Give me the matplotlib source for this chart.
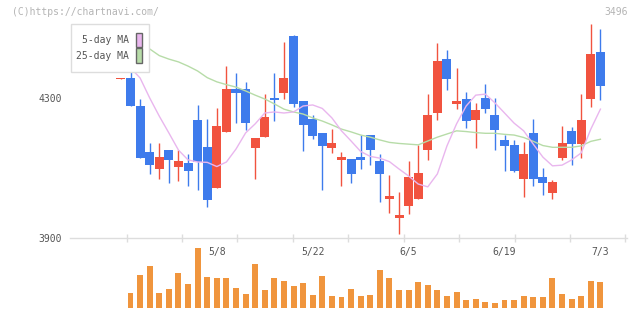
import matplotlib
matplotlib.use("Agg")
import matplotlib.pyplot as plt
from matplotlib.patches import Rectangle
import numpy as np

# trading days shown (2024), first one has no volume bar / MA
days = ["4/19", "4/22", "4/23", "4/24", "4/25", "4/26", "4/30", "5/1", "5/2", "5/7",
        "5/8", "5/9", "5/10", "5/13", "5/14", "5/15", "5/16", "5/17", "5/20", "5/21",
        "5/22", "5/23", "5/24", "5/27", "5/28", "5/29", "5/30", "5/31", "6/3", "6/4",
        "6/5", "6/6", "6/7", "6/10", "6/11", "6/12", "6/13", "6/14", "6/17", "6/18",
        "6/19", "6/20", "6/21", "6/24", "6/25", "6/26", "6/27", "6/28", "7/1", "7/2",
        "7/3"]

opens = [4356, 4358, 4278, 4147, 4099, 4152, 4105, 4115, 4238, 4161,
         4045, 4205, 4326, 4326, 4159, 4190, 4301, 4316, 4478, 4292,
         4241, 4201, 4159, 4125, 4127, 4132, 4195, 4121, 4013, 3959,
         3993, 4013, 4153, 4259, 4412, 4285, 4298, 4239, 4301, 4252,
         4181, 4167, 4070, 4201, 4075, 4030, 4130, 4207, 4170, 4299,
         4432]
highs = [4358, 4398, 4298, 4172, 4172, 4152, 4152, 4141, 4281, 4241,
         4272, 4392, 4372, 4346, 4187, 4312, 4372, 4461, 4481, 4292,
         4252, 4201, 4212, 4147, 4127, 4195, 4195, 4141, 4081, 4032,
         4121, 4167, 4312, 4458, 4438, 4386, 4318, 4287, 4341, 4301,
         4195, 4181, 4175, 4241, 4101, 4067, 4221, 4218, 4312, 4512,
         4498]
lows = [4356, 4278, 4130, 4085, 4070, 4059, 4065, 4050, 4039, 3990,
        4045, 4205, 4230, 4210, 4070, 4190, 4236, 4299, 4276, 4150,
        4185, 4039, 4145, 4050, 4059, 4099, 4110, 4005, 3973, 3913,
        3970, 4013, 4125, 4239, 4324, 4270, 4216, 4159, 4259, 4153,
        4093, 4090, 4019, 4050, 4025, 4013, 4125, 4110, 4130, 4276,
        4295]
closes = [4358, 4278, 4130, 4110, 4132, 4125, 4121, 4093, 4119, 4010,
          4221, 4326, 4316, 4230, 4187, 4246, 4295, 4358, 4285, 4225,
          4193, 4165, 4172, 4132, 4085, 4125, 4153, 4085, 4021, 3967,
          4075, 4087, 4252, 4406, 4356, 4292, 4236, 4267, 4270, 4210,
          4165, 4093, 4141, 4070, 4059, 4061, 4172, 4170, 4238, 4426,
          4335]

ma5 = [np.nan, 4387, 4358, 4301, 4249, 4201, 4152, 4124, 4118, 4117,
       4105, 4118, 4155, 4201, 4227, 4258, 4261, 4258, 4261, 4278,
       4281, 4271, 4244, 4207, 4178, 4148, 4134, 4129, 4119, 4098,
       4078, 4055, 4047, 4084, 4164, 4227, 4278, 4309, 4312, 4287,
       4258, 4229, 4207, 4169, 4132, 4107, 4109, 4124, 4144, 4212,
       4269]
ma25 = [np.nan, 4461, 4452, 4441, 4422, 4412, 4404, 4392, 4378, 4359,
        4347, 4339, 4332, 4321, 4309, 4298, 4284, 4269, 4261, 4255,
        4244, 4235, 4224, 4212, 4204, 4195, 4189, 4181, 4174, 4171,
        4169, 4167, 4178, 4189, 4198, 4207, 4205, 4202, 4200, 4200,
        4197, 4195, 4188, 4177, 4165, 4160, 4160, 4160, 4164, 4177,
        4183]

volume = [np.nan, 14700, 32700, 41700, 14700, 18700, 34700, 23700, 59700, 30700,
          29700, 29700, 19700, 13700, 43700, 17700, 29700, 26700, 21700, 24700,
          12700, 31700, 11700, 10700, 18700, 11700, 12700, 37700, 29700, 17700,
          17700, 25700, 22700, 17700, 11700, 15700, 7700, 8700, 5700, 4700,
          7700, 7700, 11700, 10700, 10700, 29700, 13700, 8700, 11700, 26700,
          25700]

date_labels = ["5/8", "5/22", "6/5", "6/19", "7/3"]
price_labels = [3900, 4300]

UP, DOWN = "#f1533f", "#3e7bec"
VOL = "#f0953d"
PINK, GREEN = "#e9b6ee", "#b7dca8"
GRID = "#dddddd"
MONO = "DejaVu Sans Mono"

W, H = 640, 311
fig = plt.figure(figsize=(W / 100, H / 100), dpi=100)


def px_rect(l, t, r, b):
    return [l / W, 1 - b / H, (r - l) / W, (b - t) / H]


x = np.arange(len(days))
o, h, l, c = map(np.array, (opens, highs, lows, closes))
cols = np.where(c >= o, UP, DOWN)

# --- price panel
ax = fig.add_axes(px_rect(70, 20, 626.5, 238.3))
ax.set_xlim(-5.31, 52.72)
ax.set_ylim(3900, 4523.7)
ax.vlines(x, l, h, colors=cols, lw=1.0, zorder=2)
body = np.maximum(np.abs(c - o), 2.5)
ax.bar(x, body, bottom=np.minimum(o, c), width=0.94, color=cols, lw=0, zorder=3)
ax.plot(x, ma25, color=GREEN, lw=1.0, zorder=4)
ax.plot(x, ma5, color=PINK, lw=1.0, zorder=4)

for s in ["top", "right", "left"]:
    ax.spines[s].set_visible(False)
ax.spines["bottom"].set_color(GRID)
ax.spines["bottom"].set_linewidth(1.0)
ax.set_xticks([])
ax.set_xticks(np.linspace(0.6, 52.6, 10), minor=True)
ax.tick_params(axis="x", which="minor", direction="inout", length=6, width=1, color=GRID)
ax.set_yticks(price_labels)
ax.set_yticklabels([str(p) for p in price_labels], family=MONO, fontsize=7, color="#555555")
ax.tick_params(axis="y", length=0, pad=6)

for lab in date_labels:
    ax.text(days.index(lab), -0.064, lab, transform=ax.get_xaxis_transform(),
            ha="center", va="center", family=MONO, fontsize=7, color="#555555")

# --- volume panel
axv = fig.add_axes(px_rect(70, 246, 626.5, 307.7))
axv.set_xlim(ax.get_xlim())
axv.set_ylim(0, 61700)
axv.bar(x, volume, width=0.62, color=VOL, lw=0)
axv.axis("off")

# --- header texts and legend
fig.text(12 / W, 1 - 12 / H, "(C)https://chartnavi.com/", family=MONO, fontsize=7,
         color="#b4b4b4", va="center", ha="left")
fig.text(628 / W, 1 - 12 / H, "3496", family=MONO, fontsize=7,
         color="#b4b4b4", va="center", ha="right")

ov = fig.add_axes([0, 0, 1, 1], zorder=10)
ov.set_xlim(0, W)
ov.set_ylim(H, 0)
ov.axis("off")
ov.patch.set_alpha(0)
ov.add_patch(Rectangle((70.7, 24.3), 78, 47.4, facecolor="white", edgecolor=GRID, lw=1))
for ty, label, col in [(40, "5-day MA", PINK), (55.7, "25-day MA", GREEN)]:
    ov.text(129.3, ty, label, ha="right", va="center", family=MONO, fontsize=7, color="#555555")
    ov.add_patch(Rectangle((136.3, ty - 7.5), 6, 14.5, facecolor=col, edgecolor="#666666", lw=1))

fig.savefig("out.png", dpi=100)
